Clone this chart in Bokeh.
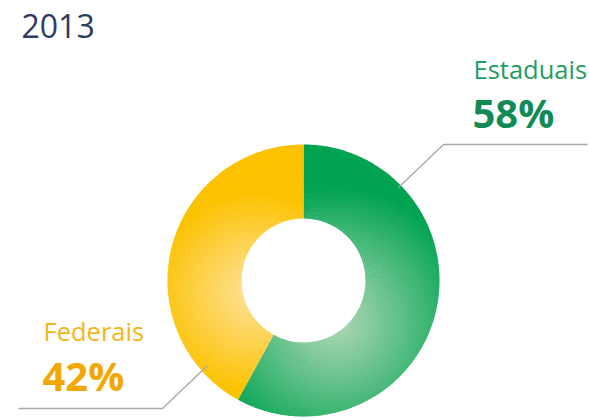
import numpy as np
from bokeh.plotting import figure
from bokeh.models import Range1d, ColumnDataSource
from bokeh.core.properties import value
from bokeh.embed import file_html
from bokeh.resources import INLINE

# ---- data ----
title = "2013"
categories = ["Estaduais", "Federais"]
shares = [58, 42]
pct_labels = ["58%", "42%"]

# ---- styles ----
W, H = 589, 420
dark_cols = [(0, 163, 80), (252, 194, 0)]
light_cols = [(170, 214, 178), (254, 224, 146)]
label_cols = ["#1f9e62", "#f4b41c"]
pct_cols = ["#118a56", "#f1a800"]
FONT = "Open Sans"

def px(xp):
    return xp

def py(yp):
    return H - yp

p = figure(width=W, height=H, output_backend="svg", toolbar_location=None,
           x_range=Range1d(0, W), y_range=Range1d(0, H), min_border=0)
p.axis.visible = False
p.grid.visible = False
p.outline_line_color = None
p.background_fill_color = "white"

# donut geometry (page px)
cxp, cyp = 303, 280
r_in, r_out = 62, 136
cx, cy = px(cxp), py(cyp)

# gradient focus per slice (page px) and spread radius
focus = [((336, 322), 135.0), ((252, 292), 100.0)]

total = float(sum(shares))
start = np.pi / 2
xs, ys, ir, orr, sa, ea, cols = [], [], [], [], [], [], []
nrad = 18
for i, s in enumerate(shares):
    span = 2 * np.pi * s / total
    a_hi = start
    a_lo = start - span  # clockwise
    nang = int(np.ceil(np.degrees(span) / 1.5))
    angs = np.linspace(a_lo, a_hi, nang + 1)
    rads = np.linspace(r_in, r_out, nrad + 1)
    (fx, fy), R = focus[i]
    for k in range(nang):
        for j in range(nrad):
            am = 0.5 * (angs[k] + angs[k + 1])
            rm = 0.5 * (rads[j] + rads[j + 1])
            xpp = cxp + rm * np.cos(am)
            ypp = cyp - rm * np.sin(am)
            d = np.hypot(xpp - fx, ypp - fy)
            t = min(d / R, 1.0) ** 1.1
            c = tuple(int(round(light_cols[i][q] * (1 - t) + dark_cols[i][q] * t)) for q in range(3))
            xs.append(cx); ys.append(cy)
            ir.append(rads[j]); orr.append(min(rads[j + 1] + 0.6, r_out))
            sa.append(angs[k]); ea.append(min(angs[k + 1] + 0.006, a_hi))
            cols.append("#%02x%02x%02x" % c)
    start = a_lo

src = ColumnDataSource(dict(x=xs, y=ys, ir=ir, orr=orr, sa=sa, ea=ea, c=cols))
p.annular_wedge(x="x", y="y", inner_radius="ir", outer_radius="orr",
                inner_radius_units="screen", outer_radius_units="screen",
                start_angle="sa", end_angle="ea", fill_color="c", line_color=None,
                source=src)

# leader lines (page px)
p.line([px(398), px(443), px(587)], [py(187), py(144), py(144)], line_color="#a8a8a8", line_width=1.3)
p.line([px(207), px(162), px(18)], [py(365), py(408), py(408)], line_color="#a8a8a8", line_width=1.3)

# title
p.text(x=[px(21)], y=[py(25)], text=[title], text_font=value(FONT), text_font_size="32px",
       text_color="#2e3d5e", text_baseline="alphabetic", text_align="left")

# labels
lab_pos = [(473, 68, 112), (43, 330, 375)]
for i in range(2):
    lx, by1, by2 = lab_pos[i]
    p.text(x=[px(lx)], y=[py(by1)], text=[categories[i]], text_font=value(FONT),
           text_font_size="25.5px", text_color=label_cols[i], text_baseline="alphabetic", text_align="left")
    p.text(x=[px(lx - 1)], y=[py(by2)], text=[pct_labels[i]], text_font=value(FONT),
           text_font_size="40px", text_font_style="bold", text_color=pct_cols[i],
           text_baseline="alphabetic", text_align="left")

open("out.html", "w").write(file_html(p, INLINE))
